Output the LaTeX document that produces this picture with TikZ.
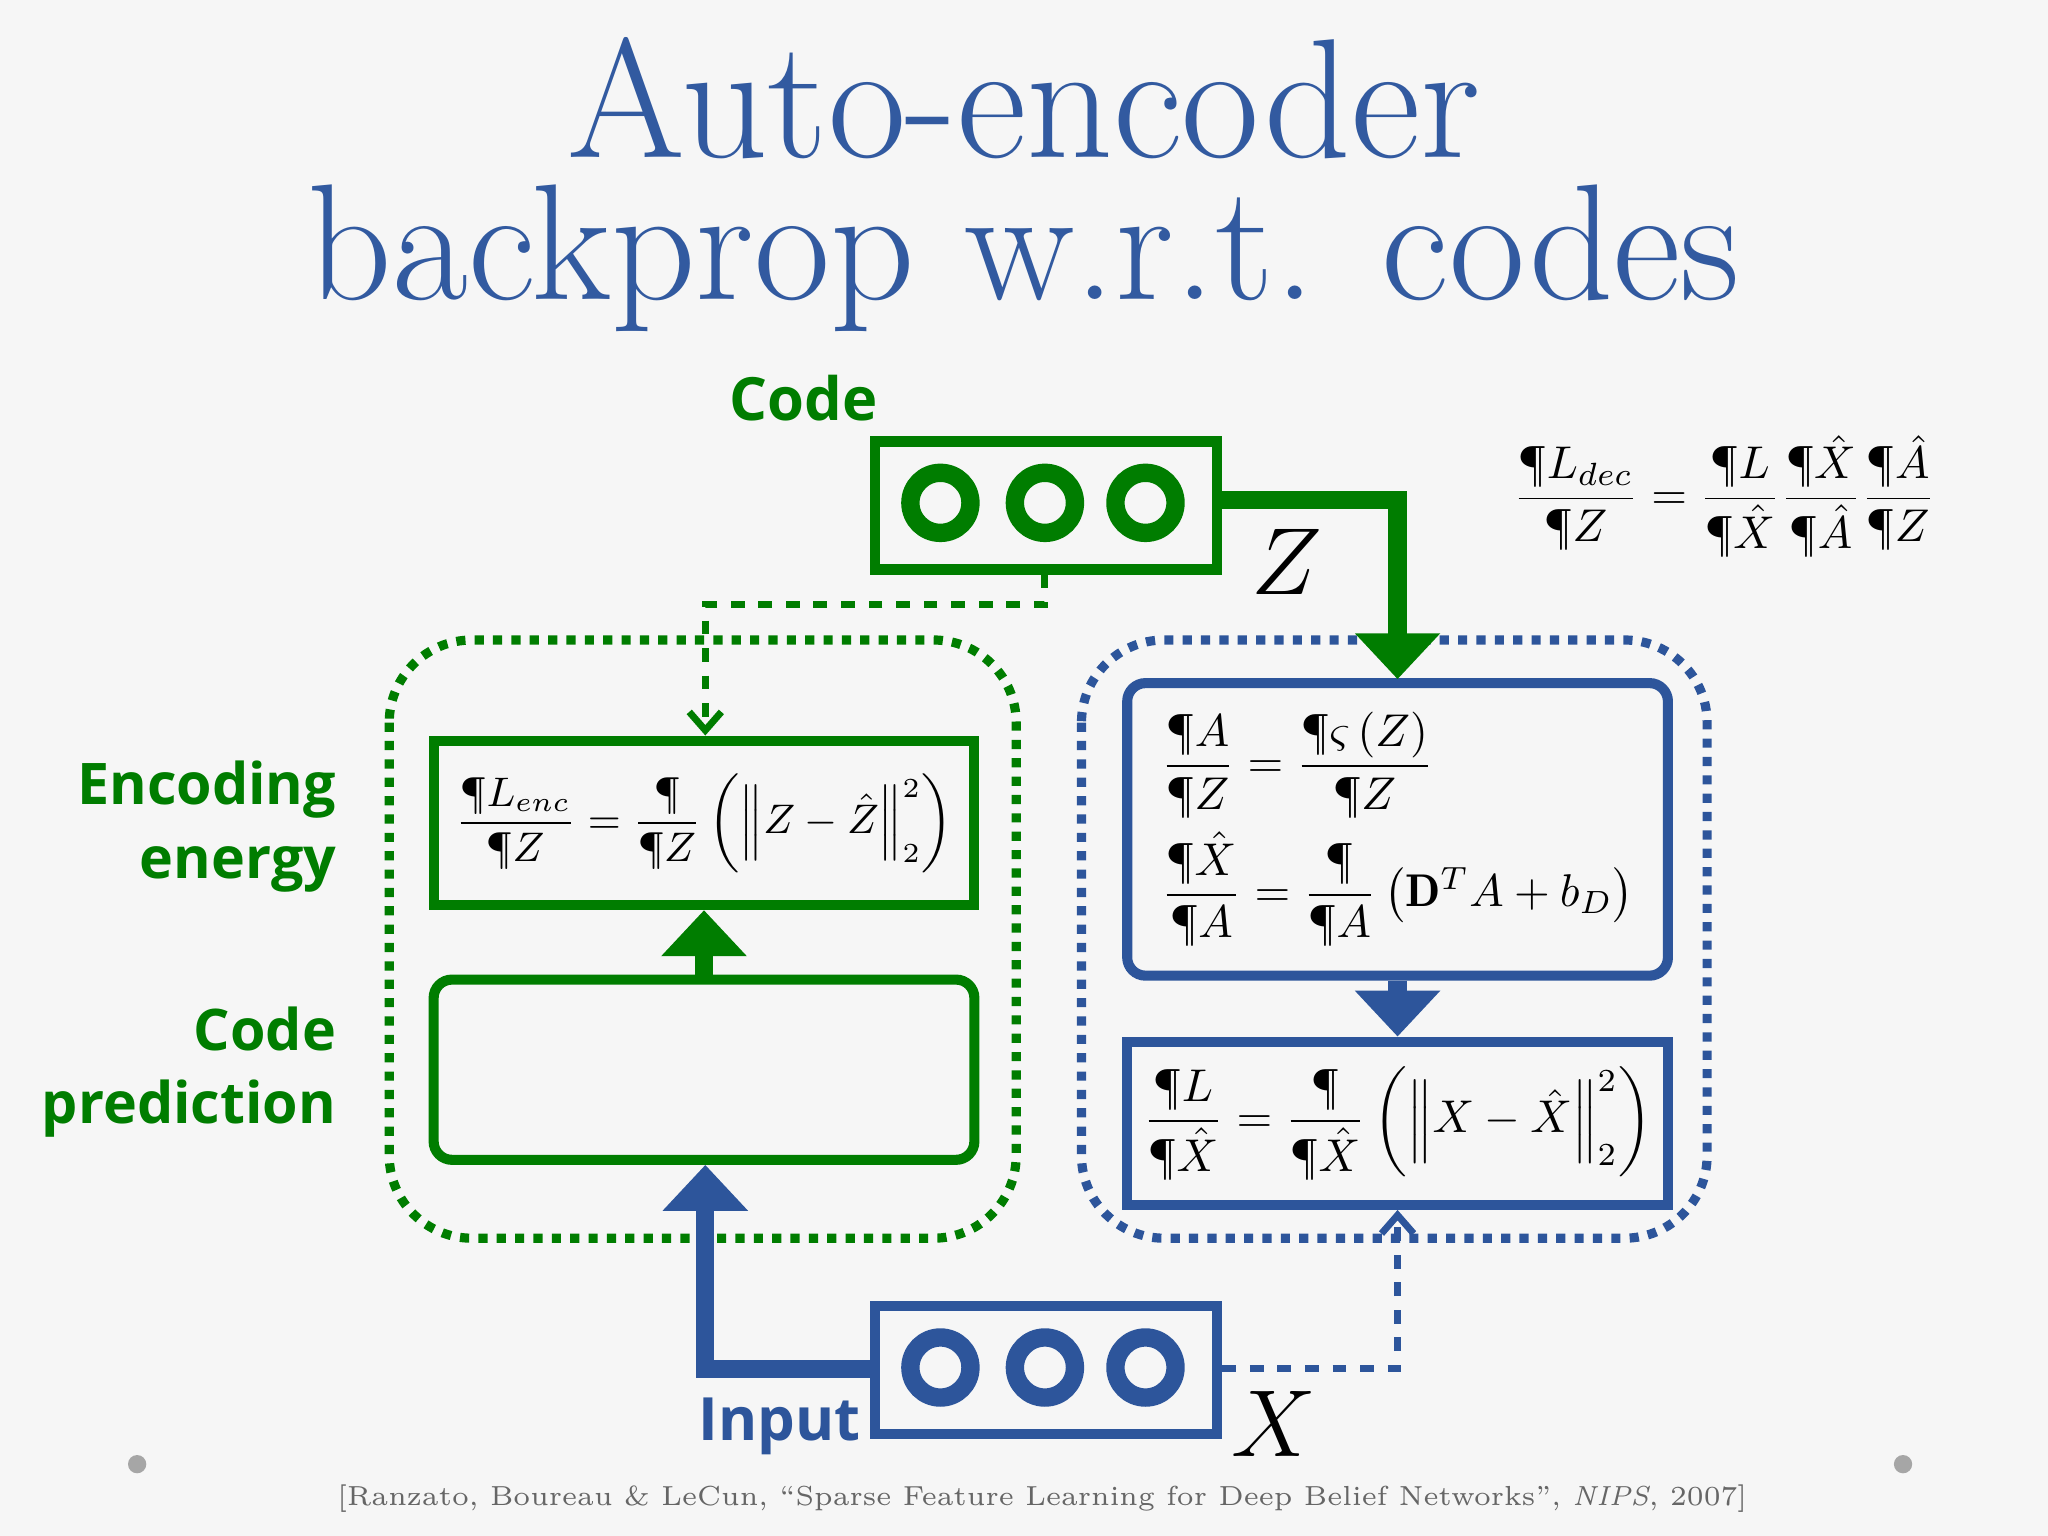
\documentclass[tikz,border=0pt]{standalone}
\usepackage{fontspec}
\usepackage{amsmath}
\newfontfamily\sansf{Open Sans}
\usetikzlibrary{arrows.meta}
\definecolor{titleblue}{RGB}{50,90,160}
\definecolor{boxblue}{RGB}{45,85,155}
\definecolor{boxgreen}{RGB}{0,125,0}
\tikzset{
  unitbox/.style={draw, line width=2.2pt, minimum width=2.62cm, minimum height=0.98cm},
  unit/.style={circle, draw, line width=4pt, minimum size=0.46cm},
  eqbox/.style={draw, line width=2.2pt, rounded corners=4pt, minimum width=4.14cm},
  region/.style={draw, line width=2pt, dotted, rounded corners=18pt},
  side label/.style={font=\sansf\bfseries\fontsize{12.5}{16}\selectfont, text=boxgreen, align=right, anchor=east, inner sep=0pt},
  flow/.style={line width=4pt, -{Triangle[length=10pt,width=18pt]}},
  link/.style={line width=1.5pt, dashed, -{Straight Barb[length=4pt,width=7pt]}}
}
\begin{document}
\begin{tikzpicture}
\fill[gray!7] (0,0) rectangle (15.68,-11.76);
\useasboundingbox (0,0) rectangle (15.68,-11.76);
% title
\node[text=titleblue, font=\fontsize{37}{40}\selectfont] (title1) at (7.84,-0.75) {Auto-encoder};
\node[text=titleblue, font=\fontsize{36}{40}\selectfont] (title2) at (7.84,-1.98) {backprop w.r.t. codes};
% code and input units
\node[unitbox, draw=boxgreen] (code) at (8.01,-3.87) {};
\foreach \x/\n in {7.2/1,8.0/2,8.77/3}
  \node[unit, draw=boxgreen] (c\n) at (\x,-3.85) {};
\node[unitbox, draw=boxblue] (input) at (8.01,-10.49) {};
\foreach \x/\n in {7.2/1,8.0/2,8.77/3}
  \node[unit, draw=boxblue] (i\n) at (\x,-10.47) {};
\node[font=\sansf\bfseries\fontsize{13}{16}\selectfont, text=boxgreen] (codelbl) at (6.15,-3.05) {Code};
\node[font=\sansf\bfseries\fontsize{13}{16}\selectfont, text=boxblue] (inputlbl) at (5.97,-10.92) {Input};
\node[font=\fontsize{20}{20}\selectfont] (zlbl) at (9.85,-4.3) {$Z$};
\node[font=\fontsize{20}{20}\selectfont] (xlbl) at (9.75,-10.9) {$X$};
% regions
\draw[region, boxgreen] (2.98,-4.9) rectangle (7.78,-9.48);
\draw[region, boxblue] (8.28,-4.9) rectangle (13.07,-9.48);
% encoder side
\node[draw=boxgreen, line width=2.2pt, minimum width=4.14cm, minimum height=1.26cm, inner sep=1pt, font=\small] (enc) at (5.39,-6.3)
  {$\dfrac{\P L_{enc}}{\P Z}=\dfrac{\P}{\P Z}\left(\left\|Z-\hat Z\right\|_2^2\right)$};
\node[eqbox, draw=boxgreen, minimum height=1.38cm] (pred) at (5.39,-8.19) {};
\node[side label] (enclbl) at (2.58,-6.33) {Encoding\\energy};
\node[side label] (predlbl) at (2.58,-8.21) {Code\\prediction};
% decoder side
\node[eqbox, draw=boxblue, minimum height=2.24cm, font=\normalsize, align=left] (dec) at (10.7,-6.35)
  {$\dfrac{\P A}{\P Z}=\dfrac{\P\varsigma\left(Z\right)}{\P Z}$\\[2pt]
   $\dfrac{\P\hat X}{\P A}=\dfrac{\P}{\P A}\left(\mathbf{D}^T A+b_D\right)$};
\node[draw=boxblue, line width=2.2pt, minimum width=4.14cm, minimum height=1.25cm, font=\normalsize] (rec) at (10.7,-8.6)
  {$\dfrac{\P L}{\P\hat X}=\dfrac{\P}{\P\hat X}\left(\left\|X-\hat X\right\|_2^2\right)$};
\node[font=\normalsize] (chain) at (13.2,-3.8)
  {$\dfrac{\P L_{dec}}{\P Z}=\dfrac{\P L}{\P\hat X}\dfrac{\P\hat X}{\P\hat A}\dfrac{\P\hat A}{\P Z}$};
% connectors
\coordinate (zturn) at (10.7,-3.83);
\coordinate (zend) at (10.7,-5.2);
\draw[flow, boxgreen] (code.east |- zturn) -- (zturn) -- (zend);
\coordinate (gturn1) at (8.0,-4.63);
\coordinate (gturn2) at (5.4,-4.63);
\draw[link, boxgreen] (code.south -| gturn1) -- (gturn1) -- (gturn2) -- (enc.north -| gturn2);
\draw[flow, boxgreen] (pred.north) -- (enc.south);
\coordinate (xturn) at (5.4,-10.48);
\draw[flow, boxblue] (input.west |- xturn) -- (xturn) -- (pred.south -| xturn);
\draw[flow, boxblue] (dec.south) -- (rec.north);
\coordinate (dturn) at (10.7,-10.48);
\draw[link, boxblue] (input.east |- dturn) -- (dturn) -- (rec.south);
% footer
\fill[gray!70] (1.05,-11.21) circle (0.07);
\fill[gray!70] (14.57,-11.21) circle (0.07);
\node[text=gray!80!black, font=\fontsize{6}{7}\selectfont] (cite) at (7.98,-11.47)
  {[Ranzato, Boureau \& LeCun, ``Sparse Feature Learning for Deep Belief Networks'', \textit{NIPS}, 2007]};
\end{tikzpicture}
\end{document}
